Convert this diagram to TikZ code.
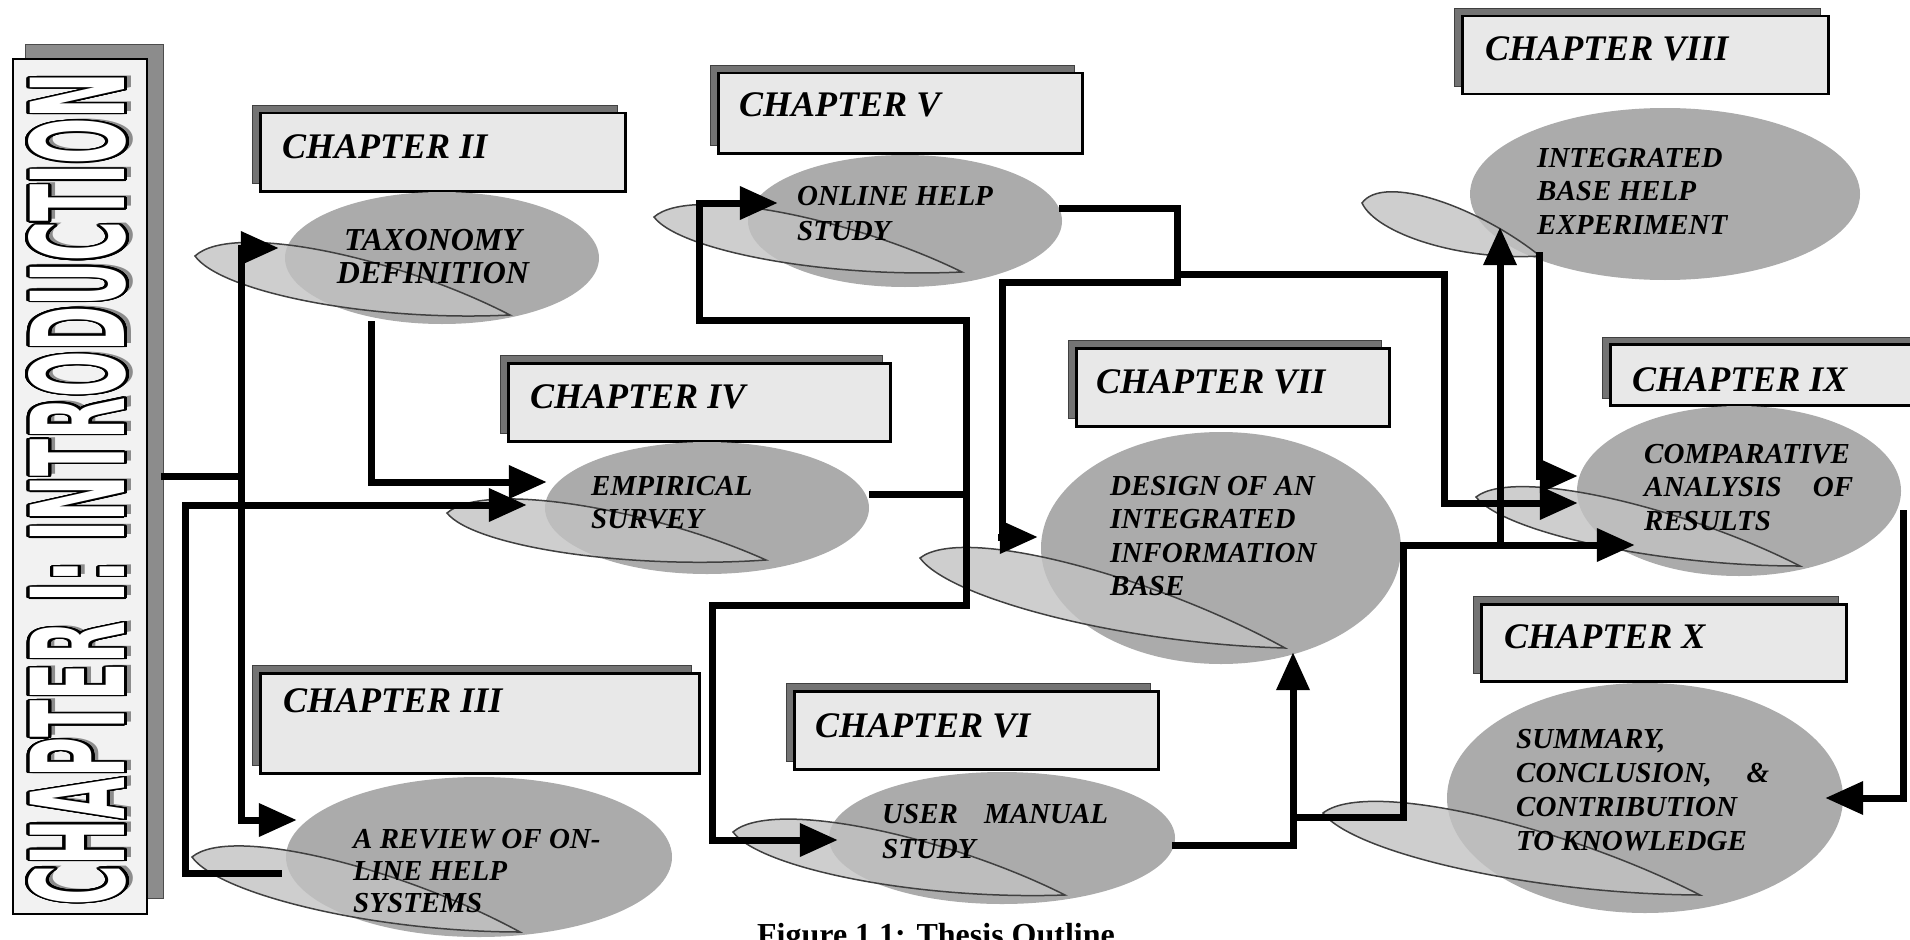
\documentclass[tikz,border=0pt]{standalone}
\usepackage{fontspec}
\setmainfont{Liberation Serif}
\newfontfamily\introfont{DejaVu Sans}
\usepackage{contour}
\contourlength{2.4pt}
\contournumber{32}
\usetikzlibrary{shapes.geometric,arrows.meta,calc}

\newcommand{\introtext}{CHAPTER I: INTRODUCTION}

\tikzset{
  conn/.style={line width=7pt, line join=miter, line cap=rect, draw=black},
  arr/.style={conn, -{Triangle[length=38pt,width=32pt]}},
  chshadow/.style={rectangle, anchor=north west, inner sep=0pt, fill=black!55, draw=black!75, line width=1pt},
  chbox/.style={rectangle, anchor=north west, inner sep=0pt, fill=black!9, draw=black, line width=2.5pt},
  chlabel/.style={anchor=base west, inner sep=0pt, font=\bfseries\itshape\fontsize{36}{40}\selectfont},
  blob/.style={ellipse, fill=black!33, draw=none, inner sep=0pt},
  leaf/.style={fill=black!24, fill opacity=0.8, draw=black!75, line width=1.5pt},
  btext/.style={anchor=north west, inner sep=0pt, align=left, font=\bfseries\itshape\fontsize{29}{33.5}\selectfont},
}
\newcommand{\leafshape}[3]{%
  \filldraw[leaf] (#1) .. controls ($(#1)!0.12!(#2)+(0,-#3*1.5)$) and ($(#1)!0.65!(#2)+(0,-#3*1.3)$) .. (#2)
     .. controls ($(#1)!0.55!(#2)+(0,#3*1.2)$) and ($(#1)!0.08!(#2)+(0,#3*1.1)$) .. cycle;}

\begin{document}
\begin{tikzpicture}[x=1pt,y=-1pt]
\useasboundingbox (0,0) rectangle (1910,939);
\clip (0,0) rectangle (1910,939);

% ---------- introduction bar
\node[rectangle, anchor=north west, inner sep=0pt, minimum width=138pt, minimum height=854pt, fill=black!45, draw=black!70, line width=1pt] (introsh) at (25,44) {};
\node[rectangle, anchor=north west, inner sep=0pt, minimum width=134pt, minimum height=855pt, fill=black!5, draw=black, line width=2pt] (intro) at (12,58) {};
\node[rotate=90, inner sep=0pt] (introtxt) at (81,489) {\resizebox{832pt}{96pt}{\introfont\bfseries\fontsize{100}{100}\selectfont\makebox[0pt][l]{\hspace{4pt}\raisebox{-5pt}{\textcolor{black!45}{\introtext}}}\contour{black}{\textcolor{white}{\introtext}}}};

% ---------- chapter boxes
\node[chshadow, minimum width=365pt, minimum height=78pt] (c2s) at (252,105) {};
\node[chbox, minimum width=365pt, minimum height=78pt] (c2) at (259,112) {};
\node[chlabel] (l2) at (282,158) {CHAPTER II};

\node[chshadow, minimum width=439pt, minimum height=100pt] (c3s) at (252,665) {};
\node[chbox, minimum width=439pt, minimum height=100pt] (c3) at (259,672) {};
\node[chlabel] (l3) at (283,712) {CHAPTER III};

\node[chshadow, minimum width=382pt, minimum height=78pt] (c4s) at (500,355) {};
\node[chbox, minimum width=382pt, minimum height=78pt] (c4) at (507,362) {};
\node[chlabel] (l4) at (530,408) {CHAPTER IV};

\node[chshadow, minimum width=364pt, minimum height=80pt] (c5s) at (710,65) {};
\node[chbox, minimum width=364pt, minimum height=80pt] (c5) at (717,72) {};
\node[chlabel] (l5) at (739,117) {CHAPTER V};

\node[chshadow, minimum width=364pt, minimum height=78pt] (c6s) at (786,683) {};
\node[chbox, minimum width=364pt, minimum height=78pt] (c6) at (793,690) {};
\node[chlabel] (l6) at (815,737) {CHAPTER VI};

\node[chshadow, minimum width=313pt, minimum height=78pt] (c7s) at (1068,340) {};
\node[chbox, minimum width=313pt, minimum height=78pt] (c7) at (1075,347) {};
\node[chlabel] (l7) at (1096,393) {CHAPTER VII};

\node[chshadow, minimum width=366pt, minimum height=78pt] (c8s) at (1454,8) {};
\node[chbox, minimum width=366pt, minimum height=78pt] (c8) at (1461,15) {};
\node[chlabel] (l8) at (1485,61) {CHAPTER VIII};

\node[chshadow, minimum width=330pt, minimum height=61pt] (c9s) at (1602,337) {};
\node[chbox, minimum width=330pt, minimum height=61pt] (c9) at (1609,343) {};
\node[chlabel] (l9) at (1632,391) {CHAPTER IX};

\node[chshadow, minimum width=365pt, minimum height=77pt] (c10s) at (1473,596) {};
\node[chbox, minimum width=365pt, minimum height=77pt] (c10) at (1480,603) {};
\node[chlabel] (l10) at (1504,648) {CHAPTER X};

% ---------- blobs
\node[blob, minimum width=314pt, minimum height=132pt] (b2) at (442,258) {};
\leafshape{195,256}{510,315}{28}
\node[blob, minimum width=386pt, minimum height=160pt] (b3) at (479,857) {};
\leafshape{192,857}{520,932}{28}
\node[blob, minimum width=324pt, minimum height=132pt] (b4) at (707,508) {};
\leafshape{447,513}{766,560}{26}
\node[blob, minimum width=314pt, minimum height=132pt] (b5) at (905,221) {};
\leafshape{654,217}{962,272}{26}
\node[blob, minimum width=346pt, minimum height=132pt] (b6) at (1002,838) {};
\leafshape{733,832}{1065,895}{28}
\node[blob, minimum width=360pt, minimum height=232pt] (b7) at (1221,548) {};
\leafshape{920,558}{1285,648}{30}
\node[blob, minimum width=390pt, minimum height=172pt] (b8) at (1665,194) {};
\leafshape{1362,203}{1540,256}{24}
\node[blob, minimum width=324pt, minimum height=170pt] (b9) at (1739,491) {};
\leafshape{1476,497}{1800,566}{26}
\node[blob, minimum width=396pt, minimum height=230pt] (b10) at (1645,798) {};
\leafshape{1323,813}{1700,895}{30}

% ---------- blob texts
\node[btext, anchor=north, align=center, font=\bfseries\itshape\fontsize{32}{33}\selectfont] (t2) at (433,229) {TAXONOMY\\DEFINITION};
\node[btext, font=\bfseries\itshape\fontsize{29}{32}\selectfont] (t3) at (353,829) {A REVIEW OF ON-\\LINE HELP\\SYSTEMS};
\node[btext] (t4) at (591,476) {EMPIRICAL\\SURVEY};
\node[btext, font=\bfseries\itshape\fontsize{29}{35}\selectfont] (t5) at (797,186) {ONLINE HELP\\STUDY};
\node[btext, font=\bfseries\itshape\fontsize{29}{35}\selectfont] (t6) at (882,804) {\makebox[226pt][s]{USER MANUAL}\\STUDY};
\node[btext] (t7) at (1110,476) {DESIGN OF AN\\INTEGRATED\\INFORMATION\\BASE};
\node[btext] (t8) at (1537,148) {INTEGRATED\\BASE HELP\\EXPERIMENT};
\node[btext] (t9) at (1644,444) {COMPARATIVE\\\makebox[209pt][s]{ANALYSIS OF}\\RESULTS};
\node[btext, font=\bfseries\itshape\fontsize{29}{34}\selectfont] (t10) at (1516,729) {SUMMARY,\\\makebox[253pt][s]{CONCLUSION, \&}\\CONTRIBUTION\\TO KNOWLEDGE};

% ---------- connectors
\coordinate (j1) at (241,476);
\draw[conn] (introsh.east |- j1) -- (j1);
\draw[arr] (j1) |- ($(b2.west)+(-6,-10)$);
\draw[arr] (j1) |- ($(b3.west)+(11,-37)$);

\draw[arr] (b2.south -| 371,0) |- ($(b4.west)+(2,-26)$);
\draw[arr] ($(b3.west)+(-7,16)$) -| (185,505) -- ($(b4.west)+(-18,-3)$);

\coordinate (j4a) at (966,320);
\coordinate (j4b) at (966,605);
\draw[conn] ($(b4.east)+(3,-14)$) -- (j4a |- 0,494);
\draw[conn] (j4a) -- (j4b);
\draw[arr] (j4a) -| (699,203) -- ($(b5.west)+(30,-18)$);
\draw[arr] (j4b) -| (712,840) -- ($(b6.west)+(9,2)$);

\coordinate (j5) at (1177,282);
\draw[conn] ($(b5.east)+(0,-13)$) -| (j5);
\draw[arr] (j5) -| ($(b7.west)+(-38,-11)$) -- ($(b7.west)+(-3,-11)$);
\draw[arr] (j5 |- 0,274) -| (1444,503) -- ($(b9.west)+(1,12)$);

\draw[arr] ($(b8.south)+(-126,-25)$) |- ($(b9.west)+(1,-15)$);

\coordinate (j7) at (1293,817);
\draw[arr] ($(b6.east)+(0,7)$) -| ($(b7.south)+(72,-12)$);
\draw[arr] (j7) -| (1403,545) -- ($(b9.west)+(58,54)$);
\draw[arr] (1500,545) -- ($(b8.south)+(-165,-53)$);

\draw[arr] ($(b9.east)+(2,22)$) |- ($(b10.east)+(-18,0)$);

% ---------- caption
\node[anchor=base, inner sep=0pt, font=\bfseries\fontsize{32}{40}\selectfont] (cap) at (936,945) {Figure 1.1: Thesis Outline};
\end{tikzpicture}
\end{document}
